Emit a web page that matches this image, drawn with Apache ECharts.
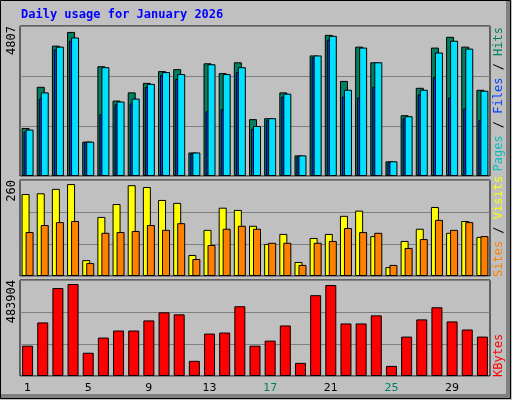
<!DOCTYPE html>
<html>
<head>
<meta charset="utf-8">
<script src="https://cdn.jsdelivr.net/npm/echarts@6/dist/echarts.min.js"></script>
<style>
  html, body { margin: 0; padding: 0; background: #c0c0c0; }
  #chart { width: 512px; height: 400px; }
</style>
</head>
<body>
<div id="chart"></div>
<script>
// daily values
var days = ['1','2','3','4','5','6','7','8','9','10','11','12','13','14','15','16',
            '17','18','19','20','21','22','23','24','25','26','27','28','29','30','31'];
var weekend = ['3','4','10','11','17','18','24','25','31'];
var hits  = [1539,2858,4178,4617,1099,3518,2418,2680,2984,3361,3424,754,3612,3298,3644,1822,
             1853,2680,660,3863,4523,3047,4146,3644,471,1948,2827,4115,4460,4146,2764];
var files = [1487,2680,4146,4439,1099,3487,2387,2481,2953,3330,3267,754,3581,3267,3487,1602,
             1853,2638,660,3863,4492,2764,4115,3644,471,1916,2764,3958,4335,4083,2733];
var pages = [1424,2481,4052,4335,1099,1979,2293,2324,2858,3235,3110,722,2073,2136,3330,1508,
             1790,2544,628,3800,4366,2544,2513,2858,440,1853,2607,3172,2513,2167,1790];
var visits = [222,224,236,249,43,160,195,246,241,206,198,57,125,185,179,136,
              87,114,38,103,114,163,177,108,24,95,128,187,117,149,106];
var sites  = [119,138,146,149,35,117,119,122,138,125,143,46,84,128,136,128,
              90,90,30,90,95,130,119,117,30,76,100,152,125,146,108];
var kbytes = [152800,270000,443200,463600,117200,193600,229200,229200,280200,320900,310700,76400,
              213900,219000,351500,152800,178300,254700,66200,407500,458500,264900,264900,305600,
              50900,198700,285300,346400,275100,234300,198700];
var maxHits = 4807, maxVisits = 260, maxKbytes = 483904;

var mono = '"DejaVu Sans Mono", monospace';
var chart = echarts.init(document.getElementById('chart'));

function xAxis(idx, labels) {
  return {
    type: 'category', gridIndex: idx, data: days,
    axisLine: { show: false }, axisTick: { show: false },
    axisLabel: labels ? {
      show: true, margin: 7, fontFamily: '"DejaVu Sans"', fontSize: 11,
      formatter: function (v) { return weekend.indexOf(v) >= 0 ? '{w|' + v + '}' : '{n|' + v + '}'; },
      rich: { w: { color: '#008060', fontSize: 11 }, n: { color: '#000', fontSize: 11 } }
    } : { show: false }
  };
}
function yAxis(idx, max) {
  return {
    type: 'value', gridIndex: idx, min: 0, max: max, interval: max / 3,
    axisLabel: { show: false }, axisLine: { show: false }, axisTick: { show: false },
    splitLine: { lineStyle: { color: '#808080', width: 1 } }
  };
}
function sideText(x, y, align, rich, text) {
  return { type: 'text', x: x, y: y, rotation: Math.PI / 2,
    style: { text: text, align: align, verticalAlign: 'middle', font: '12px ' + mono, rich: rich, fill: '#000' } };
}
var edge = { borderColor: '#000', borderWidth: 1 };

chart.setOption({
  animation: false,
  backgroundColor: '#c0c0c0',
  title: { text: 'Daily usage for January 2026', left: 16, top: 4,
    textStyle: { color: '#0000ff', fontFamily: mono, fontSize: 12, fontWeight: 'bold' } },
  grid: [
    { left: 20, top: 26, width: 470, height: 150, show: true, borderColor: '#000', borderWidth: 1 },
    { left: 20, top: 180, width: 470, height: 96, show: true, borderColor: '#000', borderWidth: 1 },
    { left: 20, top: 280, width: 470, height: 96, show: true, borderColor: '#000', borderWidth: 1 }
  ],
  xAxis: [xAxis(0, false), xAxis(1, false), xAxis(2, true)],
  yAxis: [yAxis(0, maxHits), yAxis(1, maxVisits), yAxis(2, maxKbytes)],
  series: [
    { name: 'Hits', type: 'bar', xAxisIndex: 0, yAxisIndex: 0, data: hits, barWidth: 8, barGap: '-75%',
      itemStyle: Object.assign({ color: '#008060' }, edge) },
    { name: 'Pages', type: 'bar', xAxisIndex: 0, yAxisIndex: 0, data: pages, barWidth: 8, barGap: '-75%',
      itemStyle: Object.assign({ color: '#0040ff' }, edge) },
    { name: 'Files', type: 'bar', xAxisIndex: 0, yAxisIndex: 0, data: files, barWidth: 8, barGap: '-75%',
      itemStyle: Object.assign({ color: '#00e0ff' }, edge) },
    { name: 'Visits', type: 'bar', xAxisIndex: 1, yAxisIndex: 1, data: visits, barWidth: 8, barGap: '-50%',
      itemStyle: Object.assign({ color: '#ffff00' }, edge) },
    { name: 'Sites', type: 'bar', xAxisIndex: 1, yAxisIndex: 1, data: sites, barWidth: 8, barGap: '-50%',
      itemStyle: Object.assign({ color: '#ff8000' }, edge) },
    { name: 'KBytes', type: 'bar', xAxisIndex: 2, yAxisIndex: 2, data: kbytes, barWidth: 11,
      itemStyle: Object.assign({ color: '#ff0000' }, edge) }
  ],
  graphic: [
    { type: 'rect', shape: { x: 0.5, y: 0.5, width: 510, height: 398 }, style: { fill: null, stroke: '#000' }, z: 100 },
    { type: 'rect', shape: { x: 506, y: 1, width: 5, height: 398 }, style: { fill: '#808080' }, z: 99 },
    { type: 'rect', shape: { x: 1, y: 394, width: 510, height: 5 }, style: { fill: '#808080' }, z: 99 },
    sideText(12, 26, 'right', {}, String(maxHits)),
    sideText(12, 180, 'right', {}, String(maxVisits)),
    sideText(12, 280, 'right', {}, String(maxKbytes)),
    sideText(499, 27, 'right', {
      p: { fill: '#00c0c0', font: '12px ' + mono }, f: { fill: '#0040ff', font: '12px ' + mono },
      h: { fill: '#008060', font: '12px ' + mono }, s: { fill: '#000', font: '12px ' + mono }
    }, '{p|Pages}{s| / }{f|Files}{s| / }{h|Hits}'),
    sideText(499, 277, 'left', {
      a: { fill: '#ff8000', font: '12px ' + mono }, b: { fill: '#ffff00', font: '12px ' + mono },
      s: { fill: '#000', font: '12px ' + mono }
    }, '{a|Sites}{s| / }{b|Visits}'),
    sideText(499, 377, 'left', { k: { fill: '#ff0000', font: '12px ' + mono } }, '{k|KBytes}')
  ]
});
</script>
</body>
</html>
